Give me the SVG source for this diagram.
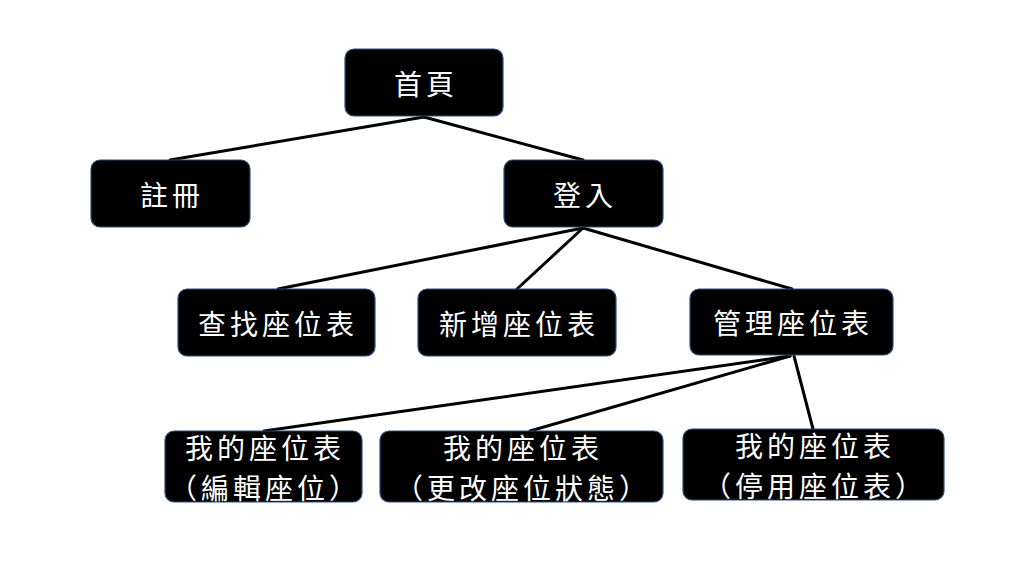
<svg xmlns="http://www.w3.org/2000/svg" width="1024" height="576" viewBox="0 0 1024 576">
<style>
.box{fill:#000;stroke:#2f4f7f;stroke-width:1.2}
.t{fill:#fff;font-family:"Noto Sans CJK TC","Noto Sans CJK SC",sans-serif;font-size:28px;text-anchor:middle;dominant-baseline:central;letter-spacing:4px}
.c{stroke:#000;stroke-width:3;fill:none;stroke-linecap:round}
</style>
<rect width="1024" height="576" fill="#fff"/>
<g id="connectors">
<line class="c" x1="424" y1="117" x2="170" y2="160"/>
<line class="c" x1="424" y1="117" x2="583" y2="160"/>
<line class="c" x1="583" y1="228" x2="278" y2="289"/>
<line class="c" x1="583" y1="228" x2="517" y2="289"/>
<line class="c" x1="583" y1="228" x2="792" y2="289"/>
<line class="c" x1="790" y1="356" x2="264" y2="431"/>
<line class="c" x1="790" y1="356" x2="530" y2="431"/>
<line class="c" x1="794" y1="356" x2="813" y2="429"/>
</g>
<g id="n-home"><rect class="box" x="345" y="49" width="158" height="67" rx="9"/><text class="t" x="426" y="83">首頁</text></g>
<g id="n-register"><rect class="box" x="91" y="160" width="159" height="67" rx="9"/><text class="t" x="172" y="194">註冊</text></g>
<g id="n-login"><rect class="box" x="504" y="160" width="159" height="67" rx="9"/><text class="t" x="585" y="194">登入</text></g>
<g id="n-search"><rect class="box" x="178" y="289" width="197" height="67" rx="9"/><text class="t" x="278" y="323">查找座位表</text></g>
<g id="n-add"><rect class="box" x="418" y="289" width="198" height="67" rx="9"/><text class="t" x="519" y="323">新增座位表</text></g>
<g id="n-manage"><rect class="box" x="690" y="289" width="203" height="66" rx="9"/><text class="t" x="793" y="322">管理座位表</text></g>
<g id="n-edit"><rect class="box" x="165" y="431" width="197" height="71" rx="9"/><text class="t" x="265" y="447">我的座位表</text><text class="t" x="265" y="487">（編輯座位）</text></g>
<g id="n-status"><rect class="box" x="380" y="431" width="283" height="71" rx="9"/><text class="t" x="523" y="447">我的座位表</text><text class="t" x="523" y="487">（更改座位狀態）</text></g>
<g id="n-disable"><rect class="box" x="683" y="429" width="261" height="71" rx="9"/><text class="t" x="815" y="445">我的座位表</text><text class="t" x="815" y="485">（停用座位表）</text></g>
</svg>
